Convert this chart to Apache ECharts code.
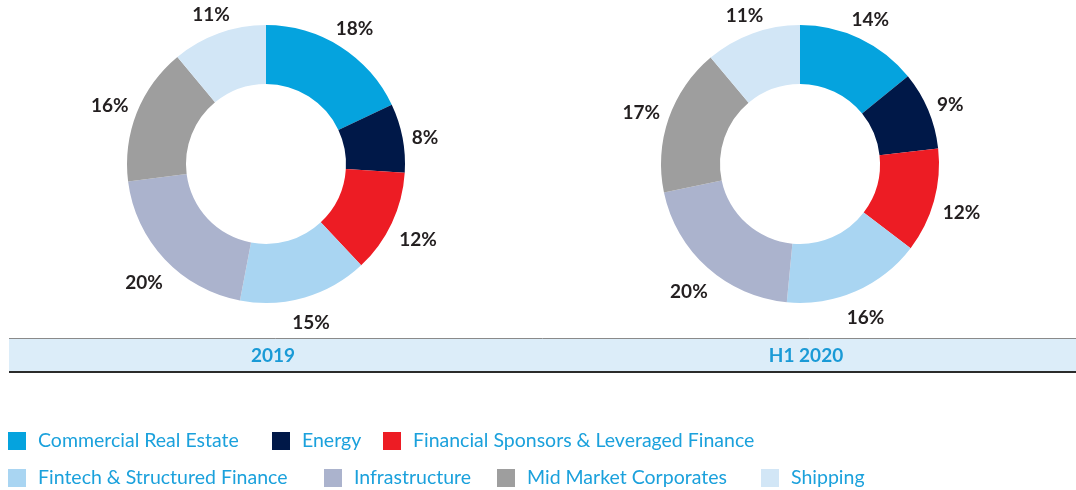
<!DOCTYPE html>
<html>
<head>
<meta charset="utf-8">
<script src="https://cdn.jsdelivr.net/npm/echarts@6/dist/echarts.min.js"></script>
<style>
html,body{margin:0;padding:0;background:#fff;}
#chart{width:1076px;height:490px;}
</style>
</head>
<body>
<div id="chart"></div>
<script>
var categories = ['Commercial Real Estate','Energy','Financial Sponsors & Leveraged Finance','Fintech & Structured Finance','Infrastructure','Mid Market Corporates','Shipping'];
var values2019 = [18, 8, 12, 15, 20, 16, 11];
var valuesH12020 = [14, 9, 12, 16, 20, 17, 11];
var periodLabels = ['2019', 'H1 2020'];
var colors = ['#05A3DE','#001848','#ED1C24','#A9D5F2','#ABB3CD','#9E9E9E','#D2E6F6'];

var chart = echarts.init(document.getElementById('chart'));
var FONT = 'Lato, "DejaVu Sans", sans-serif';
var OUTER = 139, INNER = 80, LABEL_R = 147, LABEL_DY = 4;

function mkData(vals){
  return categories.map(function(c,i){ return {name:c, value:vals[i], itemStyle:{color:colors[i]}}; });
}
var centers = [[266,164],[800,164]];
var seriesVals = [values2019, valuesH12020];

function makeLayout(vals, center){
  var total = vals.reduce(function(a,b){return a+b;},0);
  return function(params){
    var i = params.dataIndex, cum = 0;
    for (var k=0;k<i;k++) cum += vals[k];
    var mid = (cum + vals[i]/2)/total*2*Math.PI;
    var dx = Math.sin(mid), dy = -Math.cos(mid);
    var w = params.labelRect.width, h = params.labelRect.height;
    var sup = Math.abs(dx)*w/2 + Math.abs(dy)*h/2;
    var r = LABEL_R + sup;
    return {x: center[0] + dx*r, y: center[1] + dy*r + LABEL_DY, align:'center', verticalAlign:'middle'};
  };
}

var series = seriesVals.map(function(vals, k){
  return {
    type:'pie', center:centers[k], radius:[INNER,OUTER], startAngle:90, clockwise:true,
    data:mkData(vals),
    label:{show:true, position:'outside', formatter:'{c}%', color:'#231F20', fontFamily:FONT, fontWeight:'bold', fontSize:19, lineHeight:19},
    labelLine:{show:false},
    labelLayout: makeLayout(vals, centers[k]),
    emphasis:{disabled:true}, silent:true, animation:false
  };
});

var legendLefts = [8, 272, 383, 8, 324, 497, 761];
var legendTops = [431, 431, 431, 468, 468, 468, 468];
var legends = categories.map(function(c,i){
  return {
    data:[c], left:legendLefts[i], top:legendTops[i], orient:'horizontal', padding:0,
    icon:'rect', itemWidth:18, itemHeight:18, selectedMode:false,
    textStyle:{color:'#1BA1DC', fontFamily:FONT, fontSize:19.5, padding:[0,0,0,7]}
  };
});

chart.setOption({
  animation:false,
  legend:legends,
  series:series,
  graphic:[
    {type:'rect', shape:{x:9,y:338,width:1067,height:34}, style:{fill:'#DCEDF9'}, silent:true},
    {type:'line', shape:{x1:9,y1:338.5,x2:1076,y2:338.5}, style:{stroke:'#8A8A8A', lineWidth:1}, silent:true},
    {type:'line', shape:{x1:9,y1:372,x2:1076,y2:372}, style:{stroke:'#2B2B2B', lineWidth:2}, silent:true},
    {type:'text', x:273, y:356, style:{text:periodLabels[0], fill:'#1A9AD6', font:'bold 19px '+FONT, textAlign:'center', textVerticalAlign:'middle'}, silent:true},
    {type:'text', x:806, y:356, style:{text:periodLabels[1], fill:'#1A9AD6', font:'bold 19px '+FONT, textAlign:'center', textVerticalAlign:'middle'}, silent:true}
  ]
});
</script>
</body>
</html>
